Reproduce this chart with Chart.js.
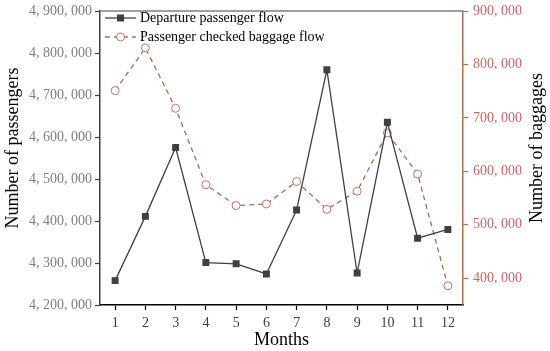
<!DOCTYPE html>
<html>
<head>
<meta charset="utf-8">
<script src="https://cdn.jsdelivr.net/npm/chart.js@4/dist/chart.umd.min.js"></script>
<style>
  html, body { margin: 0; padding: 0; background: #fff; }
  #wrap { width: 550px; height: 351px; position: relative; }
</style>
</head>
<body>
<div id="wrap"><canvas id="c"></canvas></div>
<script>
const months = ['1', '2', '3', '4', '5', '6', '7', '8', '9', '10', '11', '12'];
const departureFlow = [4258000, 4411000, 4575000, 4301000, 4298000, 4274000, 4426000, 4760000, 4276000, 4635000, 4359000, 4380000];
const baggageFlow = [751000, 831000, 718000, 575000, 536000, 539000, 581000, 529000, 563000, 672000, 595000, 386000];
const leftTicks = [4200000, 4300000, 4400000, 4500000, 4600000, 4700000, 4800000, 4900000];
const rightTicks = [400000, 500000, 600000, 700000, 800000, 900000];

const SERIF = '"Liberation Serif", "Times New Roman", serif';
const fmt = v => Math.round(v).toLocaleString('en-US').replace(/,/g, ', ');

// legend drawn inside the plot, line sample + marker like the original
const innerLegend = {
  id: 'innerLegend',
  afterDraw(chart){
    const ctx = chart.ctx, a = chart.chartArea;
    ctx.save();
    // top frame line
    ctx.strokeStyle = '#808080';
    ctx.lineWidth = 1.5;
    ctx.beginPath(); ctx.moveTo(a.left, a.top); ctx.lineTo(a.right, a.top); ctx.stroke();
    chart.data.datasets.forEach((ds, i) => {
      const y = a.top + 7 + i * 19;
      const x0 = a.left + 5, x1 = a.left + 36;
      ctx.strokeStyle = ds.borderColor;
      ctx.lineWidth = ds.borderWidth;
      ctx.setLineDash(ds.borderDash || []);
      ctx.beginPath(); ctx.moveTo(x0, y); ctx.lineTo(x1, y); ctx.stroke();
      ctx.setLineDash([]);
      const cx = (x0 + x1) / 2;
      if (ds.pointStyle === 'rect'){
        ctx.fillStyle = ds.pointBackgroundColor;
        ctx.fillRect(cx - 3.5, y - 3.5, 7, 7);
      } else {
        ctx.fillStyle = '#fff';
        ctx.strokeStyle = ds.pointBorderColor;
        ctx.lineWidth = 1;
        ctx.beginPath(); ctx.arc(cx, y, 4, 0, Math.PI * 2); ctx.fill(); ctx.stroke();
      }
      ctx.fillStyle = '#000';
      ctx.font = '14px ' + SERIF;
      ctx.textBaseline = 'middle';
      ctx.fillText(ds.label, x1 + 4, y);
    });
    // both y titles read bottom-to-top
    ctx.font = '18px ' + SERIF;
    ctx.textAlign = 'center';
    ctx.textBaseline = 'middle';
    [[13, 'Number of passengers'], [537, 'Number of baggages']].forEach(([x, t]) => {
      ctx.save();
      ctx.translate(x, 148);
      ctx.rotate(-Math.PI / 2);
      ctx.fillText(t, 0, 0);
      ctx.restore();
    });
    ctx.restore();
  }
};

new Chart(document.getElementById('c'), {
  type: 'line',
  data: {
    labels: months,
    datasets: [
      {
        label: 'Departure passenger flow',
        data: departureFlow,
        yAxisID: 'y',
        borderColor: '#404040',
        borderWidth: 1.3,
        pointStyle: 'rect',
        pointRadius: 4,
        pointBackgroundColor: '#404040',
        pointBorderColor: '#404040',
        tension: 0
      },
      {
        label: 'Passenger checked baggage flow',
        data: baggageFlow,
        yAxisID: 'y1',
        borderColor: '#a5704e',
        borderWidth: 1.3,
        borderDash: [5, 4],
        pointStyle: 'circle',
        pointRadius: 4,
        pointBackgroundColor: '#ffffff',
        pointBorderColor: '#d46a6a',
        pointBorderWidth: 1,
        tension: 0
      }
    ]
  },
  options: {
    responsive: true,
    maintainAspectRatio: false,
    animation: false,
    layout: { padding: { top: 11, left: 0, right: 0, bottom: 0 } },
    plugins: { legend: { display: false }, tooltip: { enabled: false } },
    scales: {
      x: {
        offset: true,
        grid: { offset: false, drawOnChartArea: false, color: '#000', tickLength: 5, tickWidth: 1.2 },
        border: { color: '#000', width: 1.5 },
        ticks: { color: '#404040', font: { family: SERIF, size: 14 }, padding: 5, maxRotation: 0 },
        title: { display: true, text: 'Months', color: '#000', font: { family: SERIF, size: 18 }, padding: { top: 0, bottom: 0 } },
        afterFit(s){ s.height = 46; }
      },
      y: {
        position: 'left',
        min: 4200000, max: 4900000,
        afterBuildTicks(s){ s.ticks = leftTicks.map(v => ({ value: v })); },
        grid: { drawOnChartArea: false, color: '#404040', tickLength: 5, tickWidth: 1.2 },
        border: { color: '#404040', width: 1.5 },
        ticks: { color: '#808080', font: { family: SERIF, size: 14 }, padding: 3, callback: v => fmt(v) },
        title: { display: false },
        afterFit(s){ s.width = 100; s.paddingTop = 0; s.paddingBottom = 0; }
      },
      y1: {
        position: 'right',
        min: 350000, max: 900000,
        afterBuildTicks(s){ s.ticks = rightTicks.map(v => ({ value: v })); },
        grid: { drawOnChartArea: false, color: '#a5704e', tickLength: 5, tickWidth: 1.2 },
        border: { color: '#a5704e', width: 1.5 },
        ticks: { color: '#cc6666', font: { family: SERIF, size: 14 }, padding: 5, callback: v => fmt(v) },
        title: { display: false },
        afterFit(s){ s.width = 87; s.paddingTop = 0; s.paddingBottom = 0; }
      }
    }
  },
  plugins: [innerLegend]
});
</script>
</body>
</html>
